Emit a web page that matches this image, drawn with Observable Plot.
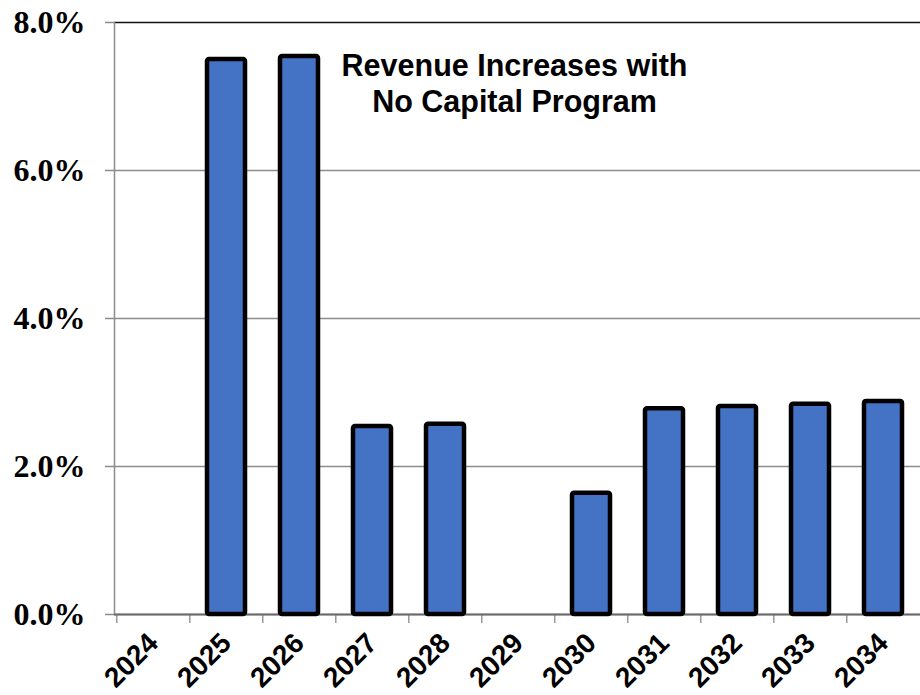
<!DOCTYPE html>
<html>
<head>
<meta charset="utf-8">
<script src="https://cdn.jsdelivr.net/npm/d3@7"></script>
<script src="https://cdn.jsdelivr.net/npm/@observablehq/plot@0.6"></script>
<style>
  html, body { margin: 0; padding: 0; background: #fff; overflow: hidden; }
  #chart svg { display: block; }
</style>
</head>
<body>
<div id="chart"></div>
<script>
const years = ["2024", "2025", "2026", "2027", "2028", "2029", "2030", "2031", "2032", "2033", "2034"];
const values = [0, 7.50, 7.54, 2.54, 2.57, 0, 1.64, 2.78, 2.81, 2.84, 2.88];
const yTicks = [0, 2, 4, 6, 8];
const titleLines = ["Revenue Increases with", "No Capital Program"];

const data = years.map((year, i) => ({year, value: values[i]}));

const W = 920, H = 695, ML = 114, MR = -2, MT = 22, MB = 81;
const step = (W - ML - MR) / years.length;
const yMax = d3.max(yTicks);

const chart = Plot.plot({
  width: W,
  height: H,
  marginLeft: ML,
  marginRight: MR,
  marginTop: MT,
  marginBottom: MB,
  style: {background: "#fff", overflow: "hidden"},
  x: {domain: years, paddingInner: 0.48, paddingOuter: 0.24, axis: null, label: null},
  y: {domain: [0, yMax], axis: null, label: null},
  marks: [
    Plot.ruleY(yTicks.filter(t => t < yMax), {stroke: "#8c8c8c", strokeWidth: 1.5}),
    Plot.ruleY([yMax], {stroke: "#111", strokeWidth: 1.5}),
    Plot.frame({anchor: "left", stroke: "#8c8c8c", strokeWidth: 1.5}),
    Plot.axisY({
      ticks: yTicks,
      tickFormat: d => d.toFixed(1) + "%",
      label: null,
      tickSize: 9,
      tickPadding: 20,
      stroke: "#8c8c8c",
      strokeWidth: 1.5,
      fill: "#000",
      fontSize: 32,
      fontWeight: "bold",
      fontFamily: "'Liberation Serif', 'Times New Roman', serif"
    }),
    Plot.axisX({
      tickSize: 9,
      text: null,
      label: null,
      dx: -step / 2,
      stroke: "#9a9a9a",
      strokeWidth: 1.5
    }),
    Plot.axisX({
      tickSize: 0,
      tickPadding: 24,
      tickRotate: -45,
      label: null,
      fill: "#000",
      fontSize: 28,
      fontWeight: "bold",
      fontFamily: "'Liberation Sans', Arial, sans-serif"
    }),
    Plot.ruleY([0], {stroke: "#6a6a6a", strokeWidth: 2}),
    Plot.barY(data.filter(d => d.value > 0), {
      x: "year",
      y: "value",
      fill: "#4472C4",
      stroke: "#000",
      strokeWidth: 4.5,
      strokeLinejoin: "round",
      rx: 2
    }),
    Plot.text([titleLines.join("\n")], {
      frameAnchor: "top",
      dx: -4,
      dy: 27,
      lineAnchor: "top",
      lineHeight: 1.2,
      fontSize: 30.5,
      fontWeight: "bold",
      fill: "#000",
      fontFamily: "'Liberation Sans', Arial, sans-serif"
    })
  ]
});

document.getElementById("chart").appendChild(chart);
</script>
</body>
</html>
